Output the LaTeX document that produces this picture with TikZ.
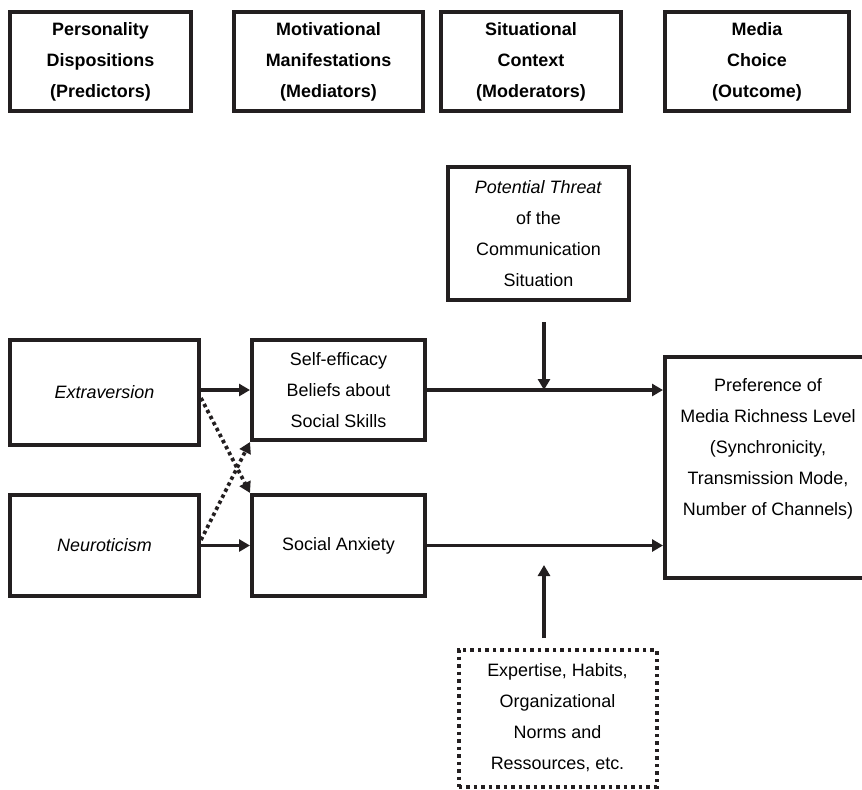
\documentclass[tikz,border=0pt]{standalone}
\usepackage{fontspec}
\setmainfont{Liberation Sans}
\usetikzlibrary{arrows.meta,positioning,calc}
\definecolor{inkLine}{RGB}{35,31,32}
\tikzset{
    every node/.append style={align=center,font=\fontsize{10.2pt}{17.6pt}\selectfont},
    box/.style={rectangle,draw=inkLine,line width=0.08cm,inner sep=2pt},
    head/.style={box,minimum height=1.98cm,font=\fontsize{10.2pt}{17.6pt}\selectfont\bfseries},
    dbox/.style={box,line width=0.08cm,dash pattern=on 0.07cm off 0.08cm},
    arr/.style={-{Triangle[length=0.22cm,width=0.24cm]},draw=inkLine,line width=0.065cm},
    darr/.style={arr,line width=0.075cm,dash pattern=on 0.07cm off 0.065cm}
}

\begin{document}
\begin{tikzpicture}
    \clip (0,0) rectangle (17.24,-15.78);
    % column headings
    \node[head,minimum width=3.62cm] (pers)  at ( 2.01,-1.23) {Personality\\Dispositions\\(Predictors)};
    \node[head,minimum width=3.78cm] (motiv) at ( 6.57,-1.23) {Motivational\\Manifestations\\(Mediators)};
    \node[head,minimum width=3.60cm] (situ)  at (10.62,-1.23) {Situational\\Context\\(Moderators)};
    \node[head,minimum width=3.68cm] (media) at (15.14,-1.23) {Media\\Choice\\(Outcome)};
    % model
    \node[box,minimum width=3.62cm,minimum height=2.66cm] (threat) at (10.77,-4.67) {\textit{Potential Threat}\\of the\\Communication\\Situation};
    \node[box,minimum width=3.78cm,minimum height=2.10cm] (ext)    at ( 2.09,-7.85) {\textit{Extraversion}};
    \node[box,minimum width=3.46cm,minimum height=2.00cm] (self)   at ( 6.77,-7.80) {Self-efficacy\\Beliefs about\\Social Skills};
    \node[box,minimum width=3.78cm,minimum height=2.02cm] (neuro)  at ( 2.09,-10.91) {\textit{Neuroticism}};
    \node[box,minimum width=3.46cm,minimum height=2.02cm] (socanx) at ( 6.77,-10.91) {Social Anxiety};
    \node[box,minimum width=4.12cm,minimum height=4.42cm,
        label={[anchor=north,inner sep=0pt,yshift=-0.46cm]north:Preference of\\Media Richness Level\\(Synchronicity,\\Transmission Mode,\\Number of Channels)}] (pref) at (15.36,-9.35) {};
    \node[dbox,minimum width=3.96cm,minimum height=2.74cm] (exper) at (11.15,-14.36) {Expertise, Habits,\\Organizational\\Norms and\\Ressources, etc.};

    \coordinate (thr)  at (10.88,-6.44);
    \coordinate (expb) at (10.88,-12.76);
    \coordinate (expt) at (10.88,-11.30);

    \draw[arr]  (self.west -| ext.east) -- (self.west);
    \draw[arr]  (neuro.east) -- (socanx.west);
    \draw[darr] ($(ext.east)+(0,-0.11)$) -- (socanx.north west);
    \draw[darr] ($(neuro.east)+(0,0.11)$) -- (self.south west);
    \draw[arr]  (self.east) -- (self.east -| pref.west);
    \draw[arr]  (socanx.east) -- (socanx.east -| pref.west);
    \draw[arr]  (thr) -- (thr |- self.east);
    \draw[arr]  (expb) -- (expt);
\end{tikzpicture}
\end{document}
